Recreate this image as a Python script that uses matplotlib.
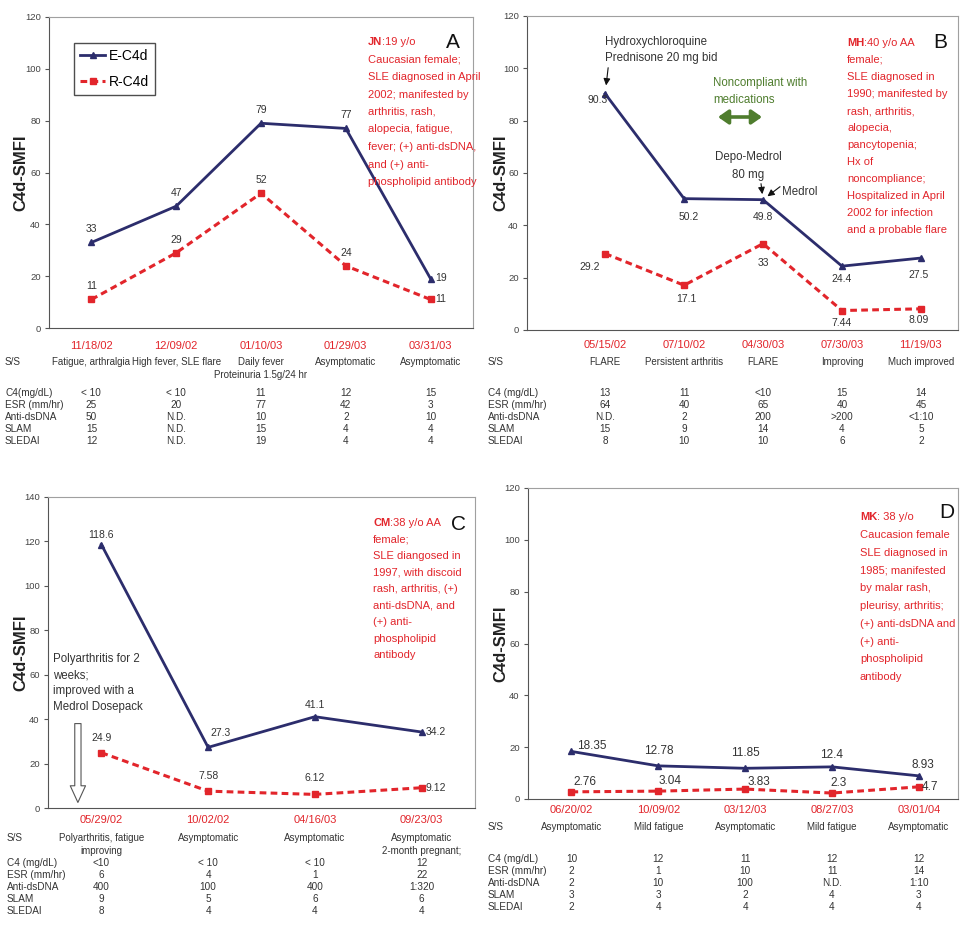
import numpy as np
import matplotlib
matplotlib.use("Agg")
import matplotlib.pyplot as plt
from matplotlib import font_manager
from matplotlib.lines import Line2D
from matplotlib.transforms import blended_transform_factory

W, H = 960, 932
_names = set(f.name for f in font_manager.fontManager.ttflist)
NARROW = "Liberation Sans Narrow" if "Liberation Sans Narrow" in _names else "Liberation Sans"
plt.rcParams['font.family'] = [NARROW, 'DejaVu Sans']

navy = "#2c2d6c"
red = "#e2252b"
txt = "#333333"
green = "#4f7d2e"

row_names = ["S/S", "C4 (mg/dL)", "ESR (mm/hr)", "Anti-dsDNA", "SLAM", "SLEDAI"]

### data

# A
a_dates = ["11/18/02", "12/09/02", "01/10/03", "01/29/03", "03/31/03"]
a_ss = ["Fatigue, arthralgia", "High fever, SLE flare", "Daily fever\nProteinuria 1.5g/24 hr",
        "Asymptomatic", "Asymptomatic"]
a_e = [33, 47, 79, 77, 19]
a_r = [11, 29, 52, 24, 11]
a_c4 = ["< 10", "< 10", "11", "12", "15"]
a_esr = ["25", "20", "77", "42", "3"]
a_dna = ["50", "N.D.", "10", "2", "10"]
a_slam = ["15", "N.D.", "15", "4", "4"]
a_sledai = ["12", "N.D.", "19", "4", "4"]
a_rows = ["S/S", "C4(mg/dL)", "ESR (mm/hr)", "Anti-dsDNA", "SLAM", "SLEDAI"]

# B
b_dates = ["05/15/02", "07/10/02", "04/30/03", "07/30/03", "11/19/03"]
b_ss = ["FLARE", "Persistent arthritis", "FLARE", "Improving", "Much improved"]
b_e = [90.3, 50.2, 49.8, 24.4, 27.5]
b_r = [29.2, 17.1, 33, 7.44, 8.09]
b_c4 = ["13", "11", "<10", "15", "14"]
b_esr = ["64", "40", "65", "40", "45"]
b_dna = ["N.D.", "2", "200", ">200", "<1:10"]
b_slam = ["15", "9", "14", "4", "5"]
b_sledai = ["8", "10", "10", "6", "2"]

# C
c_dates = ["05/29/02", "10/02/02", "04/16/03", "09/23/03"]
c_ss = ["Polyarthritis, fatigue\nimproving", "Asymptomatic", "Asymptomatic",
        "Asymptomatic\n2-month pregnant;"]
c_e = [118.6, 27.3, 41.1, 34.2]
c_r = [24.9, 7.58, 6.12, 9.12]
c_c4 = ["<10", "< 10", "< 10", "12"]
c_esr = ["6", "4", "1", "22"]
c_dna = ["400", "100", "400", "1:320"]
c_slam = ["9", "5", "6", "6"]
c_sledai = ["8", "4", "4", "4"]

# D
d_dates = ["06/20/02", "10/09/02", "03/12/03", "08/27/03", "03/01/04"]
d_ss = ["Asymptomatic", "Mild fatigue", "Asymptomatic", "Mild fatigue", "Asymptomatic"]
d_e = [18.35, 12.78, 11.85, 12.4, 8.93]
d_r = [2.76, 3.04, 3.83, 2.3, 4.7]
d_c4 = ["10", "12", "11", "12", "12"]
d_esr = ["2", "1", "10", "11", "14"]
d_dna = ["2", "10", "100", "N.D.", "1:10"]
d_slam = ["3", "3", "2", "4", "3"]
d_sledai = ["2", "4", "4", "4", "4"]

a_note = ["Caucasian female;", "SLE diagnosed in April", "2002; manifested by",
          "arthritis, rash,", "alopecia, fatigue,", "fever; (+) anti-dsDNA,",
          "and (+) anti-", "phospholipid antibody"]
b_note = ["female;", "SLE diagnosed in", "1990; manifested by", "rash, arthritis,",
          "alopecia,", "pancytopenia;", "Hx of", "noncompliance;",
          "Hospitalized in April", "2002 for infection", "and a probable flare"]
c_note = ["female;", "SLE diangosed in", "1997, with discoid", "rash, arthritis, (+)",
          "anti-dsDNA, and", "(+) anti-", "phospholipid", "antibody"]
d_note = ["Caucasion female", "SLE diagnosed in", "1985; manifested", "by malar rash,",
          "pleurisy, arthritis;", "(+) anti-dsDNA and", "(+) anti-", "phospholipid",
          "antibody"]

fig = plt.figure(figsize=(W / 100, H / 100), dpi=100)


def fx(x):
    return x / W


def fy(y):
    return 1 - y / H


def ftext(x, y, s, **kw):
    return fig.text(fx(x), fy(y), s, **kw)


def panel(rect, xlim, ymax, dates, ss, e, r, cells, rows, e_off, r_off, lab_size,
          row_x, y_dates, y_ss, y_rows, ylab_x):
    l, t, rr, b = rect
    ax = fig.add_axes([l / W, 1 - b / H, (rr - l) / W, (b - t) / H])
    x = np.arange(len(e))
    ax.plot(x, e, color=navy, lw=2.0, marker='^', ms=5, zorder=3, clip_on=False)
    ax.plot(x, r, color=red, lw=2.2, ls=(0, (2.2, 1.4)), marker='s', ms=5, zorder=3,
            clip_on=False)
    ax.set_xlim(*xlim)
    ax.set_ylim(0, ymax)
    ax.set_yticks(np.arange(0, ymax + 1, 20))
    ax.set_xticks([])
    for s in ['top', 'right']:
        ax.spines[s].set_color('#a0a0a0')
    for s in ['left', 'bottom']:
        ax.spines[s].set_color('#555555')
    ax.tick_params(axis='y', labelsize=6.8, colors='#555555', labelcolor='#444444',
                   length=3, pad=3)
    ax.set_ylabel("C4d-SMFI", fontsize=12, fontweight='bold', family='Liberation Sans',
                  color='#222222')
    ax.yaxis.set_label_coords((ylab_x - l) / (rr - l), 0.5)

    for xi, v, (dx, dy, ha) in zip(x, e, e_off):
        ax.annotate(f"{v:g}", (xi, v), xytext=(dx, dy), textcoords='offset pixels',
                    ha=ha, va='center', fontsize=lab_size, color=txt)
    for xi, v, (dx, dy, ha) in zip(x, r, r_off):
        ax.annotate(f"{v:g}", (xi, v), xytext=(dx, dy), textcoords='offset pixels',
                    ha=ha, va='center', fontsize=lab_size, color=txt)

    tr = blended_transform_factory(ax.transData, fig.transFigure)
    for xi, d in zip(x, dates):
        ax.text(xi, fy(y_dates), d, transform=tr, ha='center', va='center', color=red,
                fontsize=8)
    for xi, s in zip(x, ss):
        for k, ln in enumerate(s.split("\n")):
            ax.text(xi, fy(y_ss + 13 * k), ln, transform=tr, ha='center', va='center',
                    color=txt, fontsize=7)
    ftext(row_x, y_ss, rows[0], ha='left', va='center', color=txt, fontsize=7.2)
    for j, (name, vals) in enumerate(zip(rows[1:], cells)):
        ftext(row_x, y_rows[j], name, ha='left', va='center', color=txt, fontsize=7.2)
        for xi, v in zip(x, vals):
            ax.text(xi, fy(y_rows[j]), v, transform=tr, ha='center', va='center',
                    color=txt, fontsize=7.2)
    return ax


def note(ax, x, y0, dy, bold, first, lines, size=8):
    t = ftext(x, y0, bold, ha='left', va='center', color=red, fontsize=size,
              fontweight='bold')
    ax.annotate(first, xy=(1, 0.5), xycoords=t, ha='left', va='center', color=red,
                fontsize=size, annotation_clip=False)
    for i, ln in enumerate(lines):
        ftext(x, y0 + (i + 1) * dy, ln, ha='left', va='center', color=red, fontsize=size)


c = 'center'
# A
axA = panel((49, 17, 473, 328), (-0.5, 4.5), 120, a_dates, a_ss, a_e, a_r,
            [a_c4, a_esr, a_dna, a_slam, a_sledai], a_rows,
            [(0, 13, c)] * 4 + [(5, 1, 'left')],
            [(0, 13, c)] * 4 + [(5, 0, 'left')], 7.5,
            5, 346, 362, [393, 405, 417, 429, 441], 28)
leg = axA.legend([Line2D([], [], color=navy, lw=2, marker='^', ms=5),
                  Line2D([], [], color=red, lw=2.2, ls=(0, (2.2, 1.4)), marker='s', ms=5)],
                 ["E-C4d", "R-C4d"], loc='upper left',
                 bbox_to_anchor=((74 - 49) / 424, 1 - (43 - 17) / 311),
                 fontsize=10, frameon=True, fancybox=False, edgecolor='#222222',
                 handlelength=1.8, labelspacing=0.85, borderpad=0.45, handletextpad=0.25,
                 borderaxespad=0)
leg.get_frame().set_linewidth(1.0)
note(axA, 368, 42, 17.5, "JN", ":19 y/o", a_note)
ftext(453, 43, "A", ha='center', va='center', fontsize=15, color='#111111')

# B
axB = panel((527, 16, 958, 330), (-0.99, 4.47), 120, b_dates, b_ss, b_e, b_r,
            [b_c4, b_esr, b_dna, b_slam, b_sledai], row_names,
            [(-8, -6, c), (5, -18, c), (0, -17, c), (0, -13, c), (-2, -17, c)],
            [(-15, -13, c), (2, -14, c), (0, -19, c), (0, -12, c), (-2, -11, c)], 7.5,
            488, 345, 362, [393, 405, 417, 429, 441], 508)
note(axB, 847, 43, 17, "MH", ":40 y/o AA", b_note)
ftext(940, 43, "B", ha='center', va='center', fontsize=15, color='#111111')
ftext(605, 42, "Hydroxychloroquine", ha='left', va='center', fontsize=8.3, color=txt)
ftext(605, 58, "Prednisone 20 mg bid", ha='left', va='center', fontsize=8.3, color=txt)
axB.annotate("", xy=(0, b_e[0]), xytext=(3, 26), textcoords='offset pixels',
             arrowprops=dict(arrowstyle='-|>', color='#111111', lw=0.8,
                             shrinkA=0, shrinkB=6))
ftext(713, 83, "Noncompliant with", ha='left', va='center', fontsize=8.3, color=green)
ftext(713, 100, "medications", ha='left', va='center', fontsize=8.3, color=green)
axB.annotate("", xy=(fx(762), fy(117)), xytext=(fx(718), fy(117)),
             xycoords='figure fraction', textcoords='figure fraction',
             arrowprops=dict(arrowstyle='<|-|>,head_length=0.5,head_width=0.35',
                             color=green, lw=2.6, mutation_scale=12,
                             shrinkA=0, shrinkB=0))
ftext(748, 157, "Depo-Medrol", ha='center', va='center', fontsize=8.3, color=txt)
ftext(748, 175, "80 mg", ha='center', va='center', fontsize=8.3, color=txt)
axB.annotate("", xy=(2, b_e[2]), xytext=(-2, 16), textcoords='offset pixels',
             arrowprops=dict(arrowstyle='-|>', color='#111111', lw=0.8,
                             shrinkA=0, shrinkB=4))
axB.annotate("", xy=(2, b_e[2]), xytext=(17, 13), textcoords='offset pixels',
             arrowprops=dict(arrowstyle='-|>', color='#111111', lw=0.8,
                             shrinkA=0, shrinkB=4))
ftext(782, 192, "Medrol", ha='left', va='center', fontsize=8.3, color=txt)

# C
axC = panel((48, 497, 475, 808), (-0.5, 3.5), 140, c_dates, c_ss, c_e, c_r,
            [c_c4, c_esr, c_dna, c_slam, c_sledai], row_names,
            [(0, 10, c), (2, 14, 'left'), (0, 12, c), (4, 0, 'left')],
            [(0, 15, c), (0, 15, c), (0, 16, c), (4, 0, 'left')], 7.5,
            7, 820, 838, [863, 875, 887, 899, 911], 28)
note(axC, 373, 523, 16.5, "CM", ":38 y/o AA", c_note)
ftext(458, 525, "C", ha='center', va='center', fontsize=15, color='#111111')
for k, ln in enumerate(["Polyarthritis for 2", "weeks;", "improved with a",
                        "Medrol Dosepack"]):
    ftext(53, 659 + 16 * k, ln, ha='left', va='center', fontsize=8.3, color=txt)
axC.annotate("", xy=(-0.22, 2.5), xytext=(-0.22, 38),
             arrowprops=dict(arrowstyle='simple,head_width=1.1,head_length=1.2,tail_width=0.45',
                             fc='white', ec='#555555', lw=0.8, mutation_scale=10,
                             shrinkA=0, shrinkB=0))

# D
axD = panel((528, 488, 958, 799), (-0.5, 4.45), 120, d_dates, d_ss, d_e, d_r,
            [d_c4, d_esr, d_dna, d_slam, d_sledai], row_names,
            [(6, 5, 'left'), (0, 15, c), (0, 15, c), (0, 12, c), (4, 11, c)],
            [(2, 10, 'left'), (0, 10, 'left'), (2, 7, 'left'), (7, 10, c), (3, 0, 'left')],
            8.5, 488, 810, 827, [859, 871, 883, 895, 907], 508)
note(axD, 860, 517, 17.8, "MK", ": 38 y/o", d_note)
ftext(947, 513, "D", ha='center', va='center', fontsize=15, color='#111111')

fig.savefig("out.png", dpi=100)
